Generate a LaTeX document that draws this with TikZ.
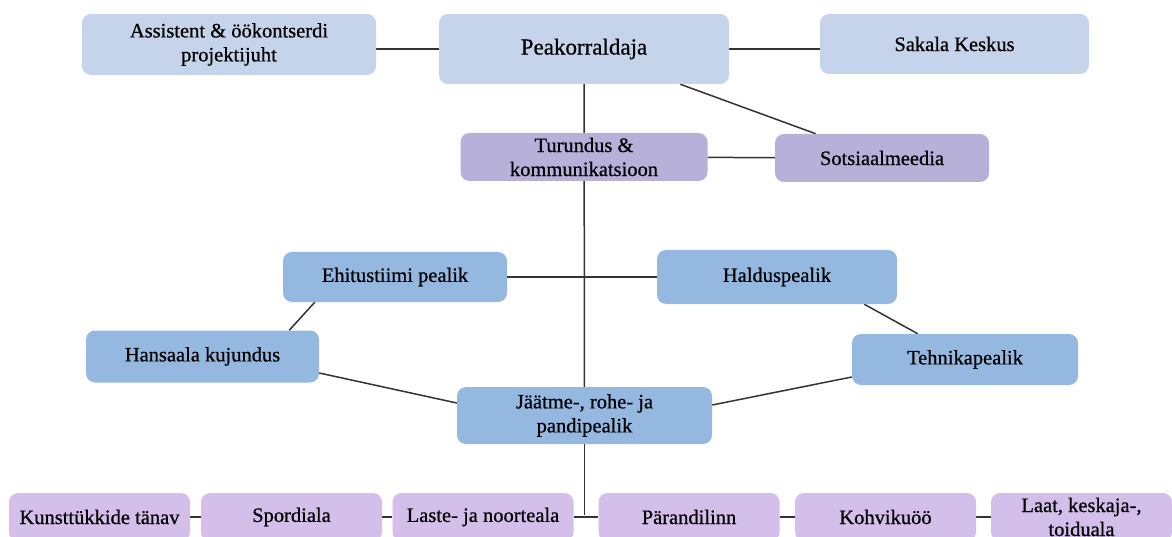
\documentclass[tikz,border=0pt]{standalone}
\usepackage{fontspec}
\setmainfont{Liberation Serif}[BoldFont={Liberation Serif}, BoldFeatures={FakeBold=0.6}]
\usetikzlibrary{backgrounds}
\tikzstyle{every picture}+=[font=\fontsize{20.5}{24}\selectfont\bfseries]

\begin{document}
\begin{tikzpicture}[x=1pt, y=-1pt,
  orgbox/.style={rectangle, rounded corners=9pt, align=center, inner sep=0pt, text=black},
  headbox/.style={orgbox, fill=pktop},
  mediabox/.style={orgbox, fill=pkmedia},
  leadbox/.style={orgbox, fill=pklead},
  areabox/.style={orgbox, fill=pkarea, minimum width=181pt, minimum height=48pt},
  link/.style={draw=black!80, line width=1.5pt}]
\definecolor{pktop}{RGB}{197,212,235}
\definecolor{pkmedia}{RGB}{183,177,218}
\definecolor{pklead}{RGB}{149,184,225}
\definecolor{pkarea}{RGB}{211,191,234}
\useasboundingbox (0,0) rectangle (1172,537);

%% juhtkond
\node[headbox, minimum width=294pt, minimum height=61pt] (assist) at (229,44.5) {Assistent \& öökontserdi\\projektijuht};
\node[headbox, minimum width=290pt, minimum height=70pt, font=\fontsize{23}{26}\selectfont\bfseries] (peak) at (584,49) {Peakorraldaja};
\node[headbox, minimum width=269pt, minimum height=60pt] (sakala) at (954.5,44) {Sakala Keskus};

%% turundus
\node[mediabox, minimum width=247pt, minimum height=48pt] (turundus) at (584,157) {Turundus \&\\kommunikatsioon};
\node[mediabox, minimum width=214pt, minimum height=48pt] (sotsiaal) at (882,158) {Sotsiaalmeedia};

%% pealikud
\node[leadbox, minimum width=224pt, minimum height=50pt] (ehitus) at (395,277) {Ehitustiimi pealik};
\node[leadbox, minimum width=240pt, minimum height=54pt] (haldus) at (777,277) {Halduspealik};
\node[leadbox, minimum width=233pt, minimum height=52pt] (hansa) at (202.5,356.5) {Hansaala kujundus};
\node[leadbox, minimum width=226pt, minimum height=51pt] (tehnika) at (965,359.5) {Tehnikapealik};
\node[leadbox, minimum width=255pt, minimum height=57pt] (jaatme) at (584.5,415.5) {J\"aätme-, rohe- ja\\pandipealik};

%% alad
\node[areabox] (kunst) at (99.5,517) {Kunstt\"ukkide t\"anav};
\node[areabox] (sport) at (291.5,517) {Spordiala};
\node[areabox] (laste) at (483,517) {Laste- ja noorteala};
\node[areabox] (parand) at (689,517) {P\"arandilinn};
\node[areabox] (kohvik) at (885.5,517) {Kohviku\"o\"o};
\node[areabox] (laat) at (1081.5,517) {Laat, keskaja-,\\toiduala};
\coordinate (alajuur) at (584.5,515);

%% jooned
\begin{scope}[on background layer]
\draw[link] (peak.west) -- (peak.west -| assist.east);
\draw[link] (peak.east) -- (peak.east -| sakala.west);
\draw[link] (peak) -- (sotsiaal);
\draw[link] (peak) -- (jaatme);
\draw[link] (turundus) -- (sotsiaal);
\draw[link] (ehitus) -- (haldus);
\draw[link] ([xshift=32pt]ehitus.south west) -- ([xshift=-30pt]hansa.north east);
\draw[link] ([xshift=-33pt]haldus.south east) -- ([xshift=66pt]tehnika.north west);
\draw[link] ([yshift=-16.5pt]hansa.east) -- ([yshift=12.5pt]jaatme.west);
\draw[link] ([yshift=-17.5pt]tehnika.west) -- ([yshift=10.5pt]jaatme.east);
\draw[link] (jaatme) -- (alajuur);
\draw[link] (kunst) -- (sport);
\draw[link] (sport) -- (laste);
\draw[link] (laste) -- (parand);
\draw[link] (parand) -- (kohvik);
\draw[link] (kohvik) -- (laat);
\end{scope}
\end{tikzpicture}
\end{document}
